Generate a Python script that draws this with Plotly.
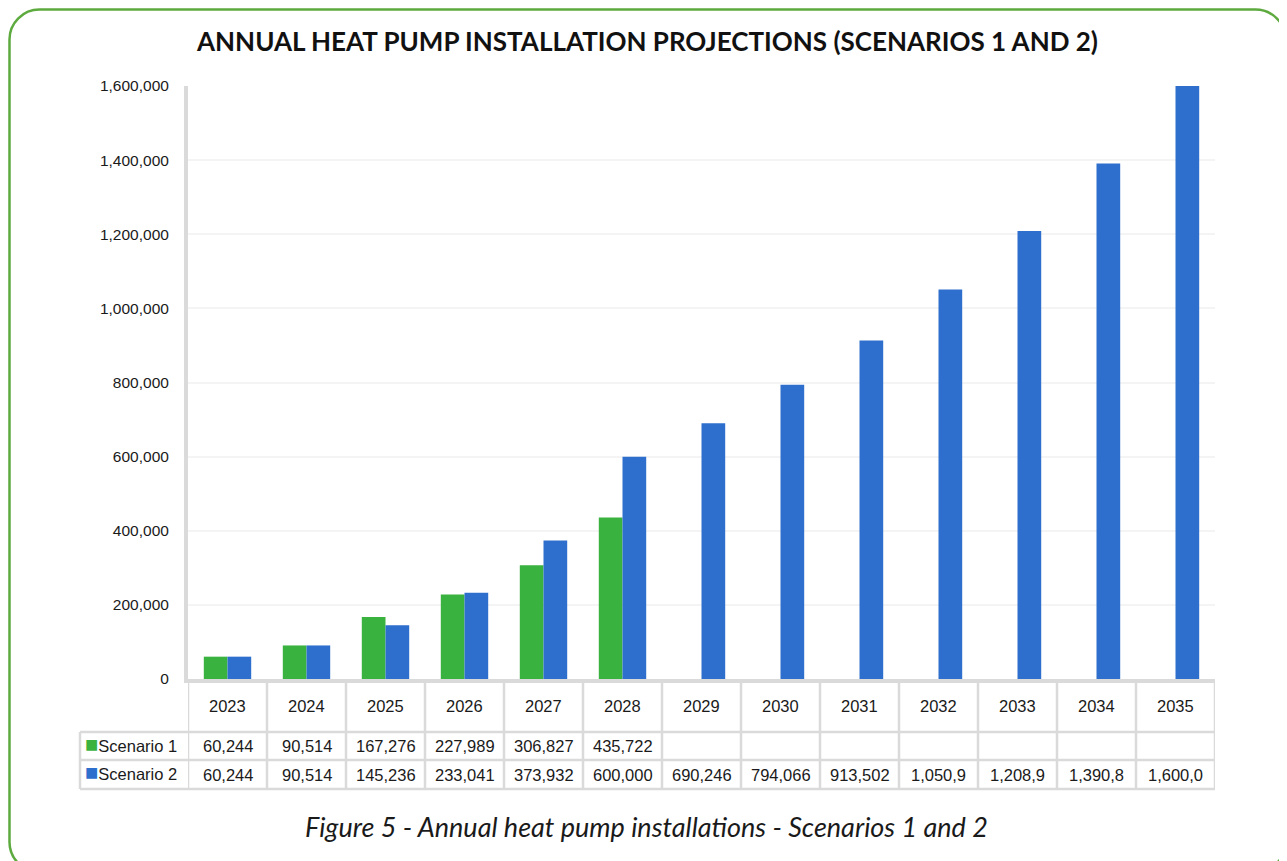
import plotly.graph_objects as go

# ─── DATOS ───
YEARS = ["2023", "2024", "2025", "2026", "2027", "2028", "2029",
         "2030", "2031", "2032", "2033", "2034", "2035"]
SCENARIO_1 = [60244, 90514, 167276, 227989, 306827, 435722,
              None, None, None, None, None, None, None]
SCENARIO_2 = [60244, 90514, 145236, 233041, 373932, 600000, 690246,
              794066, 913502, 1050900, 1208900, 1390800, 1600000]
Y_TICKS = [0, 200000, 400000, 600000, 800000, 1000000, 1200000, 1400000, 1600000]

TITLE = "ANNUAL HEAT PUMP INSTALLATION PROJECTIONS (SCENARIOS 1 AND 2)"
CAPTION = "Figure 5 - Annual heat pump installations - Scenarios 1 and 2"

GREEN = "#3AB23F"
BLUE = "#2E6FCE"
GRID = "#dadada"
FRAME = "#5DAA3F"
TXT = "#1a1a1a"

# ─── GEOMETRIA (pixeles de la pagina) ───
OFF = 8                                 # margen del <body> del navegador
W, H = 1287 - OFF, 861 - OFF
PL, PR, PT, PB = 188, 1215, 86, 679     # area del grafico
TABLE_L = 80
ROW_LINES = [732, 760, 789]            # lineas horizontales de la tabla
ROW_CENTERS = [706, 746, 774.5]


def px2x(x):
    return (x - PL) / (PR - PL)


def px2y(y):
    return (PB - y) / (PB - PT)


def cell_text(v):
    # las celdas cortan a 7 caracteres como en la tabla original
    return "" if v is None else f"{v:,}"[:7]


fig = go.Figure()
fig.add_trace(go.Bar(name="Scenario 1", x=YEARS, y=SCENARIO_1, marker_color=GREEN,
                     marker_line_width=0))
fig.add_trace(go.Bar(name="Scenario 2", x=YEARS, y=SCENARIO_2, marker_color=BLUE,
                     marker_line_width=0))

shapes = []
line = dict(color=GRID, width=2.5)
# lineas verticales de la tabla (limites de categorias)
for i in range(len(YEARS) + 1):
    shapes.append(dict(type="line", xref="x", yref="paper", x0=i - 0.5, x1=i - 0.5,
                       y0=px2y(PB), y1=px2y(ROW_LINES[-1]), line=line, layer="below"))
# lineas horizontales
for yy in ROW_LINES:
    shapes.append(dict(type="line", xref="paper", yref="paper", x0=px2x(TABLE_L), x1=px2x(PR),
                       y0=px2y(yy), y1=px2y(yy), line=line))
shapes.append(dict(type="line", xref="paper", yref="paper", x0=px2x(TABLE_L), x1=px2x(TABLE_L),
                   y0=px2y(ROW_LINES[0]), y1=px2y(ROW_LINES[-1]), line=line))

# marco verde redondeado (lo mas cerca posible del borde visible)
L, T, R, B, r = 9.5, 9.5, 1285.5, 872, 30
k = r * 0.5523


def P(x, y):
    return f"{px2x(x):.5f},{px2y(y):.5f}"


frame = (f"M{P(L + r, T)} L{P(R - r, T)} C{P(R - r + k, T)} {P(R, T + r - k)} {P(R, T + r)} "
         f"L{P(R, B - r)} C{P(R, B - r + k)} {P(R - r + k, B)} {P(R - r, B)} "
         f"L{P(L + r, B)} C{P(L + r - k, B)} {P(L, B - r + k)} {P(L, B - r)} "
         f"L{P(L, T + r)} C{P(L, T + r - k)} {P(L + r - k, T)} {P(L + r, T)} Z")
shapes.append(dict(type="path", xref="paper", yref="paper", path=frame,
                   line=dict(color=FRAME, width=2.5)))

ann = []
tfont = dict(family="Liberation Sans, Arial, sans-serif", size=16.5, color=TXT)
for i, yr in enumerate(YEARS):
    ann.append(dict(x=i, xref="x", y=px2y(ROW_CENTERS[0]), yref="paper", text=yr,
                    showarrow=False, font=tfont, xanchor="center", yanchor="middle"))
    for row, serie in ((1, SCENARIO_1), (2, SCENARIO_2)):
        t = cell_text(serie[i])
        if t:
            ann.append(dict(x=i, xref="x", y=px2y(ROW_CENTERS[row]), yref="paper", text=t,
                            showarrow=False, font=tfont, xanchor="center", yanchor="middle"))
for row, (name, col) in enumerate((("Scenario 1", GREEN), ("Scenario 2", BLUE)), start=1):
    ann.append(dict(x=px2x(83), xref="paper", y=px2y(ROW_CENTERS[row] - 2), yref="paper",
                    text=f"<span style='color:{col};font-size:22px'>■</span>{name}",
                    showarrow=False, font=tfont, xanchor="left", yanchor="middle"))
ann.append(dict(x=px2x(646), xref="paper", y=px2y(826), yref="paper", text=f"<i>{CAPTION}</i>",
                showarrow=False, font=dict(family="Lato", size=27, color=TXT),
                xanchor="center", yanchor="middle"))

fig.update_layout(
    width=W, height=H,
    margin=dict(l=PL - OFF, r=1287 - PR, t=PT - OFF, b=861 - PB, pad=0),
    paper_bgcolor="white", plot_bgcolor="white",
    title=dict(text=TITLE, x=0.5, xref="container", y=1 - (42 - OFF) / H, yref="container",
               xanchor="center", yanchor="middle",
               font=dict(family="Lato", size=26, color="#111", weight="bold")),
    barmode="group", bargap=0.40, bargroupgap=0,
    showlegend=False,
    shapes=shapes, annotations=ann,
    xaxis=dict(type="category", showticklabels=False, showgrid=False, ticks="",
               showline=True, linecolor=GRID, linewidth=4, range=[-0.5, len(YEARS) - 0.5]),
    yaxis=dict(range=[0, 1600000], tickvals=Y_TICKS, tickformat=",", showgrid=True,
               gridcolor="#f4f4f4", gridwidth=2, zeroline=False, showline=True,
               linecolor=GRID, linewidth=4, ticks="", ticklabelstandoff=12,
               tickfont=dict(family="Liberation Sans, Arial, sans-serif", size=15.5, color=TXT)),
)

fig.write_html("out.html")
